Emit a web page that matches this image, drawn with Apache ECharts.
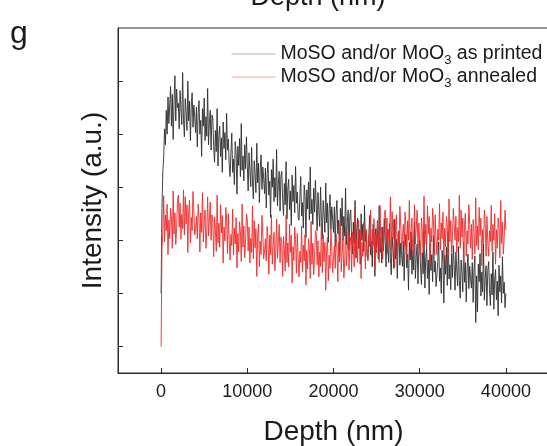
<!DOCTYPE html>
<html>
<head>
<meta charset="utf-8">
<script src="https://cdn.jsdelivr.net/npm/echarts@6/dist/echarts.min.js"></script>
<style>
html,body{margin:0;padding:0;background:#fff;}
#c{width:547px;height:446px;}
</style>
</head>
<body>
<div id="c"></div>
<script>
// Depth sampling (nm) and tick labels
const DEPTH_STEP = 100;
const xTicks = [0, 10000, 20000, 30000, 40000];
const yTicks = [0, 1, 2, 3, 4, 5];
const seriesNames = ['MoSO and/or MoO3 as printed', 'MoSO and/or MoO3 annealed'];

// Intensity (a.u.), one value every DEPTH_STEP nm from 0 to 40000
const printed = [
  1.0, 2.6, 3.3, 3.55, 4.1, 3.8, 4.45, 4.0, 4.7, 4.2, 4.55, 4.9, 4.15, 4.75, 3.9, 4.6, 5.1, 4.25, 4.85, 4.5,
  4.58, 4.10, 4.82, 4.48, 4.18, 5.16, 4.28, 3.95, 4.67, 4.43, 4.07, 5.0, 4.25, 4.62, 3.88, 4.52, 4.78, 4.13, 4.55, 4.32,
  4.03, 4.51, 3.76, 4.39, 4.63, 4.0, 4.26, 3.58, 4.48, 4.15, 4.68, 3.88, 4.33, 3.96, 4.86, 3.8, 4.21, 4.45, 3.7, 4.36,
  4.30, 3.77, 3.47, 4.07, 3.67, 4.48, 3.40, 3.97, 4.15, 3.58, 3.93, 3.28, 4.23, 3.73, 4.03, 3.52, 4.39, 3.70, 3.91, 3.43,
  3.20, 3.65, 4.02, 3.28, 3.53, 3.05, 3.86, 3.65, 2.87, 3.77, 3.41, 3.92, 3.20, 4.20, 3.32, 3.59, 3.12, 3.80, 3.35, 3.95,
  3.41, 2.93, 3.65, 3.31, 3.01, 3.75, 3.11, 2.78, 3.50, 3.26, 2.90, 3.83, 3.08, 3.45, 2.71, 3.35, 3.61, 2.96, 3.38, 3.15,
  2.88, 3.36, 2.61, 3.24, 3.48, 2.85, 3.11, 2.43, 3.33, 3.0, 3.53, 2.73, 3.18, 2.81, 3.71, 2.65, 3.06, 3.30, 2.55, 3.21,
  3.30, 2.77, 2.47, 3.07, 2.67, 3.48, 2.40, 2.97, 3.15, 2.58, 2.93, 2.28, 3.23, 2.73, 3.03, 2.52, 3.39, 2.70, 2.91, 2.43,
  2.38, 2.83, 3.20, 2.46, 2.71, 2.23, 3.04, 2.83, 2.05, 2.95, 2.59, 3.10, 2.38, 3.38, 2.50, 2.77, 2.30, 2.98, 2.53, 3.13,
  2.66, 2.18, 2.90, 2.56, 2.26, 3.0, 2.36, 2.03, 2.75, 2.51, 2.15, 3.08, 2.33, 2.70, 1.96, 2.60, 2.86, 2.21, 2.63, 2.40,
  2.15, 2.63, 1.88, 2.51, 2.75, 2.12, 2.38, 1.70, 2.60, 2.27, 2.80, 2.0, 2.45, 2.08, 2.98, 1.92, 2.33, 2.57, 1.82, 2.48,
  2.57, 2.04, 1.74, 2.34, 1.94, 2.75, 1.67, 2.24, 2.42, 1.85, 2.20, 1.55, 2.50, 2.0, 2.30, 1.79, 2.66, 1.97, 2.18, 1.70,
  1.65, 2.10, 2.47, 1.73, 1.98, 1.50, 2.31, 2.10, 1.32, 2.22, 1.86, 2.37, 1.65, 2.65, 1.77, 2.04, 1.57, 2.25, 1.80, 2.40,
  1.98, 1.50, 2.22, 1.88, 1.58, 2.32, 1.68, 1.35, 2.07, 1.83, 1.47, 2.40, 1.65, 2.02, 1.28, 1.92, 2.18, 1.53, 1.95, 1.72,
  1.51, 1.99, 1.24, 1.87, 2.11, 1.48, 1.74, 1.06, 1.96, 1.63, 2.16, 1.36, 1.81, 1.44, 2.34, 1.28, 1.69, 1.93, 1.18, 1.84,
  2.0, 1.47, 1.17, 1.77, 1.37, 2.18, 1.10, 1.67, 1.85, 1.28, 1.63, 0.98, 1.93, 1.43, 1.73, 1.22, 2.09, 1.40, 1.61, 1.13,
  1.15, 1.60, 1.97, 1.23, 1.48, 1.0, 1.81, 1.60, 0.82, 1.72, 1.36, 1.87, 1.15, 2.15, 1.27, 1.54, 1.07, 1.75, 1.30, 1.90,
  1.54, 1.06, 1.78, 1.44, 1.14, 1.88, 1.24, 0.91, 1.63, 1.39, 1.03, 1.96, 1.21, 1.58, 0.84, 1.48, 1.74, 1.09, 1.51, 1.28,
  1.10, 1.58, 0.83, 1.46, 1.70, 0.45, 1.33, 0.65, 1.55, 1.22, 1.75, 0.95, 1.40, 1.03, 1.93, 0.87, 1.28, 1.52, 0.77, 1.43,
  1.60, 1.07, 0.77, 1.37, 0.97, 1.78, 0.70, 1.27, 1.45, 0.88, 1.23, 0.58, 1.53, 1.03, 1.33, 0.82, 1.69, 1.0, 1.21, 0.73,
  1.0
];
const annealed = [
  0.0, 1.85, 2.15, 2.84, 1.97, 2.48, 2.18, 2.68, 1.73, 2.38, 2.03, 2.60, 2.42, 1.85, 2.93, 2.12, 2.52, 1.92, 2.22, 2.75,
  2.85, 2.25, 2.70, 2.02, 2.49, 2.22, 2.95, 2.10, 2.82, 2.31, 2.67, 1.77, 2.55, 2.76, 1.95, 2.43, 2.18, 2.92, 2.55, 2.10,
  2.22, 2.45, 2.03, 2.68, 2.42, 1.78, 2.52, 2.15, 2.90, 1.97, 2.33, 2.57, 1.85, 2.18, 2.82, 2.08, 2.38, 2.72, 2.0, 2.48,
  2.35, 1.69, 2.44, 2.20, 1.79, 2.85, 1.95, 2.32, 1.87, 2.67, 2.14, 2.47, 1.57, 2.25, 1.99, 2.62, 2.38, 1.75, 2.50, 2.02,
  1.63, 2.11, 1.90, 2.59, 1.72, 2.23, 1.93, 2.43, 1.48, 2.13, 1.78, 2.35, 2.17, 1.60, 2.68, 1.87, 2.27, 1.67, 1.97, 2.50,
  2.40, 1.80, 2.25, 1.57, 2.04, 1.77, 2.65, 1.65, 2.37, 1.86, 2.22, 1.32, 2.10, 2.31, 1.50, 1.98, 1.73, 2.47, 2.10, 1.65,
  1.80, 2.03, 1.61, 2.26, 2.0, 1.36, 2.10, 1.73, 2.48, 1.55, 1.91, 2.15, 1.43, 1.76, 2.40, 1.66, 1.96, 2.30, 1.58, 2.06,
  1.98, 1.32, 2.07, 1.83, 1.42, 2.48, 1.58, 1.95, 1.50, 2.30, 1.77, 2.10, 1.20, 1.88, 1.62, 2.25, 2.01, 1.38, 2.13, 1.65,
  1.31, 1.79, 1.58, 2.27, 1.40, 1.91, 1.61, 2.11, 1.16, 1.81, 1.46, 2.03, 1.85, 1.28, 2.36, 1.55, 1.95, 1.35, 1.65, 2.18,
  2.14, 1.54, 1.99, 1.31, 1.78, 1.51, 2.39, 1.39, 2.11, 1.60, 1.96, 1.06, 1.84, 2.05, 1.24, 1.72, 1.47, 2.21, 1.84, 1.39,
  1.66, 1.89, 1.47, 2.12, 1.86, 1.22, 1.96, 1.59, 2.34, 1.41, 1.77, 2.01, 1.29, 1.62, 2.26, 1.52, 1.82, 2.16, 1.44, 1.92,
  2.06, 1.40, 2.15, 1.91, 1.50, 2.56, 1.66, 2.03, 1.58, 2.38, 1.85, 2.18, 1.28, 1.96, 1.70, 2.33, 2.09, 1.46, 2.21, 1.73,
  1.61, 2.09, 1.88, 2.57, 1.70, 2.21, 1.91, 2.41, 1.46, 2.11, 1.76, 2.33, 2.15, 1.58, 2.66, 1.85, 2.25, 1.65, 1.95, 2.48,
  2.57, 1.97, 2.42, 1.74, 2.21, 1.94, 2.82, 1.82, 2.54, 2.03, 2.39, 1.49, 2.27, 2.48, 1.67, 2.15, 1.90, 2.64, 2.27, 1.82,
  2.07, 2.30, 1.88, 2.53, 2.27, 1.63, 2.37, 2.0, 2.75, 1.82, 2.18, 2.42, 1.70, 2.03, 2.67, 1.93, 2.23, 2.57, 1.85, 2.33,
  2.33, 1.67, 2.42, 2.18, 1.77, 2.83, 1.93, 2.30, 1.85, 2.65, 2.12, 2.45, 1.55, 2.23, 1.97, 2.60, 2.36, 1.73, 2.48, 2.0,
  1.73, 2.21, 2.0, 2.69, 1.82, 2.33, 2.03, 2.53, 1.58, 2.23, 1.88, 2.45, 2.27, 1.70, 2.78, 1.97, 2.37, 1.77, 2.07, 2.60,
  2.60, 2.0, 2.45, 1.77, 2.24, 1.97, 2.85, 1.85, 2.57, 2.06, 2.42, 1.52, 2.30, 2.51, 1.70, 2.18, 1.93, 2.67, 2.30, 1.85,
  2.30, 1.64, 2.39, 2.15, 1.74, 2.80, 1.90, 2.27, 1.82, 2.62, 2.09, 2.42, 1.52, 2.20, 1.94, 2.57, 2.33, 1.70, 2.45, 1.97,
  1.70, 2.18, 1.97, 2.66, 1.79, 2.30, 2.0, 2.50, 1.55, 2.20, 1.85, 2.42, 2.24, 1.67, 2.75, 1.94, 2.34, 1.74, 2.04, 2.57,
  2.2
];

const toPairs = arr => arr.map((v, i) => [i * DEPTH_STEP, v]);
const FONT = "'Liberation Sans', Arial, Helvetica, sans-serif";
const TXT = '#1a1a1a';
const AX = '#2a2a2a';

const chart = echarts.init(document.getElementById('c'), null, {renderer: 'canvas'});
chart.setOption({
  animation: false,
  backgroundColor: '#fff',
  textStyle: {fontFamily: FONT},
  grid: {left: 118, top: 28, width: 431, height: 345, show: true, borderColor: AX, borderWidth: 1,
         backgroundColor: 'transparent', containLabel: false, outerBoundsMode: 'none'},
  legend: {
    orient: 'vertical', left: 226, top: 39, itemGap: 0, itemWidth: 44, itemHeight: 14,
    textStyle: {fontFamily: FONT, fontSize: 19.5, color: TXT,
      rich: {sub: {fontFamily: FONT, fontSize: 13, color: TXT, verticalAlign: 'bottom', lineHeight: 26}}},
    formatter: name => name.replace('MoO3', 'MoO{sub|3}'),
    data: [
      {name: seriesNames[0], lineStyle: {color: '#a8a8a8', width: 1}, itemStyle: {opacity: 0}},
      {name: seriesNames[1], lineStyle: {color: '#f29a9a', width: 1}, itemStyle: {opacity: 0}}
    ]
  },
  graphic: [
    {type: 'text', left: 10, top: 18, style: {text: 'g', font: "32px " + FONT, fill: TXT}},
    {type: 'text', x: 318, y: 11, style: {text: 'Depth (nm)', font: "27px " + FONT, fill: TXT, align: 'center', verticalAlign: 'bottom'}}
  ],
  xAxis: {
    type: 'value', min: -5000, max: 45000,
    name: 'Depth (nm)', nameLocation: 'middle', nameGap: 45,
    nameTextStyle: {fontFamily: FONT, fontSize: 28, color: TXT},
    axisLine: {show: true, onZero: false, lineStyle: {color: AX, width: 1}},
    axisTick: {show: true, inside: true, length: 5, lineStyle: {color: AX}, customValues: xTicks},
    axisLabel: {show: true, fontFamily: FONT, fontSize: 18, color: TXT, margin: 10, customValues: xTicks, formatter: v => String(v)},
    splitLine: {show: false}
  },
  yAxis: {
    type: 'value', min: -0.5, max: 6,
    name: 'Intensity (a.u.)', nameLocation: 'middle', nameGap: 11, nameRotate: 90,
    nameTextStyle: {fontFamily: FONT, fontSize: 28, color: TXT},
    axisLine: {show: true, onZero: false, lineStyle: {color: AX, width: 1}},
    axisTick: {show: true, inside: true, length: 5, lineStyle: {color: AX}, customValues: yTicks},
    axisLabel: {show: false},
    splitLine: {show: false}
  },
  series: [
    {name: seriesNames[0], type: 'line', data: toPairs(printed), showSymbol: false, symbol: 'none', sampling: null,
     lineStyle: {color: '#2e2e2e', width: 1, opacity: 0.9}, itemStyle: {color: '#2e2e2e'}},
    {name: seriesNames[1], type: 'line', data: toPairs(annealed), showSymbol: false, symbol: 'none', sampling: null,
     lineStyle: {color: '#f02a2a', width: 1, opacity: 0.9}, itemStyle: {color: '#f02a2a'}}
  ]
});
</script>
</body>
</html>
